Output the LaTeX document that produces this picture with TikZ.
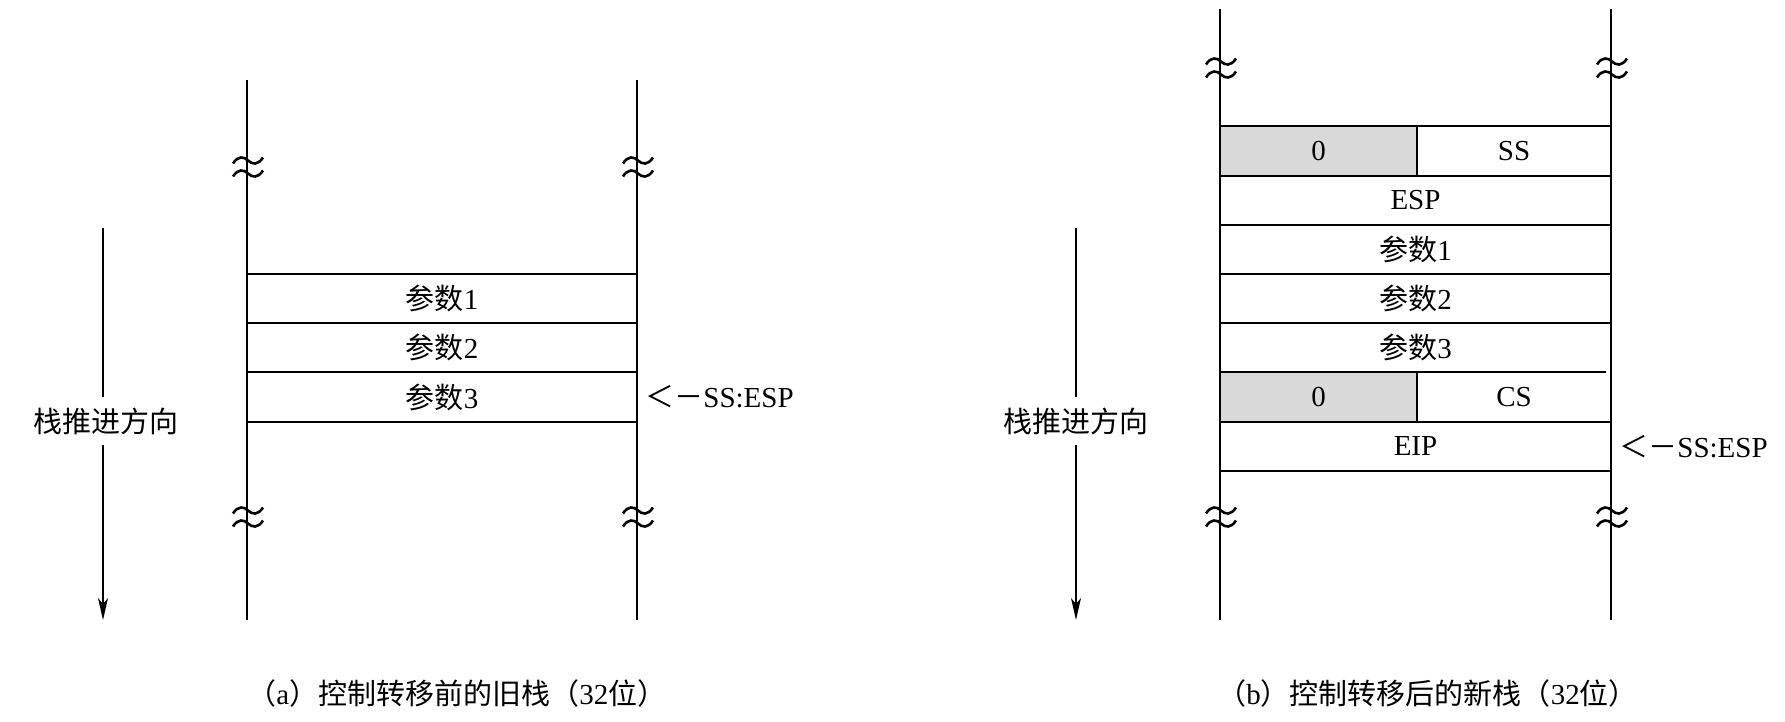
\documentclass[tikz,border=0pt]{standalone}
\usepackage{fontspec}
\setmainfont{Liberation Serif}
\newfontfamily\cjk{Noto Sans CJK SC}
\usetikzlibrary{arrows.meta}
\begin{document}
\begin{tikzpicture}[x=0.5pt,y=-0.5pt,
  stk/.style={line width=1pt},
  row/.style={line width=1pt},
  cell/.style={inner sep=0pt,font=\fontsize{14.5}{17}\selectfont},
  lbl/.style={inner sep=0pt,anchor=west,font=\fontsize{14.5}{17}\selectfont},
  dirlbl/.style={inner sep=0pt,minimum height=24pt,font=\fontsize{14.5}{17}\selectfont\cjk},
  dirline/.style={line width=0.8pt},
  brk/.pic={
    \draw[line width=1.3pt] (-14,-3.5) .. controls (-9,-11.5) and (-3,-10.5) .. (1,-6.5) .. controls (5,-2.5) and (11,-1.5) .. (16,-9.5);
    \draw[line width=1.3pt] (-14,9.5) .. controls (-9,1.5) and (-3,2.5) .. (1,6.5) .. controls (5,10.5) and (11,11.5) .. (16,3.5);
  }]
\useasboundingbox (0,0) rectangle (1785,722);

% ---------- (a) old stack ----------
\draw[stk] (247,80) -- (247,620);
\draw[stk] (637,80) -- (637,620);
\foreach \yy in {274,323,372,422} \draw[row] (247,\yy) -- (637,\yy);
\pic at (247,167) {brk};
\pic at (637,167) {brk};
\pic at (247,517) {brk};
\pic at (637,517) {brk};
\node[cell] (a1) at (442,298.5) {{\cjk 参数}1};
\node[cell] (a2) at (442,347.5) {{\cjk 参数}2};
\node[cell] (a3) at (442,397) {{\cjk 参数}3};
\node[lbl] (aesp) at (645,397) {{\cjk ＜－}SS:ESP};

\coordinate (atop) at (103,228);
\coordinate (abot) at (103,620);
\node[dirlbl] (adir) at (105.5,421) {栈推进方向};
\draw[dirline] (atop) -- (atop |- adir.north);
\draw[dirline,-{Stealth[length=11pt,width=5pt,inset=3pt]}] (atop |- adir.south) -- (abot);

\node[lbl] (acap) at (247,693) {{\cjk （}a{\cjk ）控制转移前的旧栈（}32{\cjk 位）}};

% ---------- (b) new stack ----------
\fill[gray!30] (1220,126) rectangle (1417,176);
\fill[gray!30] (1220,372) rectangle (1417,422);
\draw[stk] (1220,9) -- (1220,620);
\draw[stk] (1611,9) -- (1611,620);
\foreach \yy in {126,176,225,274,323,422,471} \draw[row] (1220,\yy) -- (1611,\yy);
\draw[row] (1220,372) -- (1606,372);
\draw[row] (1417,126) -- (1417,176);
\draw[row] (1417,372) -- (1417,422);
\pic at (1220,68) {brk};
\pic at (1611,68) {brk};
\pic at (1220,517) {brk};
\pic at (1611,517) {brk};
\node[cell] (b0a) at (1318.5,151) {0};
\node[cell] (bss) at (1514,151) {SS};
\node[cell] (besp) at (1415.5,200.5) {ESP};
\node[cell] (b1) at (1415.5,249.5) {{\cjk 参数}1};
\node[cell] (b2) at (1415.5,298.5) {{\cjk 参数}2};
\node[cell] (b3) at (1415.5,347.5) {{\cjk 参数}3};
\node[cell] (b0b) at (1318.5,397) {0};
\node[cell] (bcs) at (1514,397) {CS};
\node[cell] (beip) at (1415.5,446.5) {EIP};
\node[lbl] (besp2) at (1619,447) {{\cjk ＜－}SS:ESP};

\coordinate (btop) at (1076,228);
\coordinate (bbot) at (1076,620);
\node[dirlbl] (bdir) at (1076,421) {栈推进方向};
\draw[dirline] (btop) -- (btop |- bdir.north);
\draw[dirline,-{Stealth[length=11pt,width=5pt,inset=3pt]}] (btop |- bdir.south) -- (bbot);

\node[lbl] (bcap) at (1217,693) {{\cjk （}b{\cjk ）控制转移后的新栈（}32{\cjk 位）}};
\end{tikzpicture}
\end{document}
